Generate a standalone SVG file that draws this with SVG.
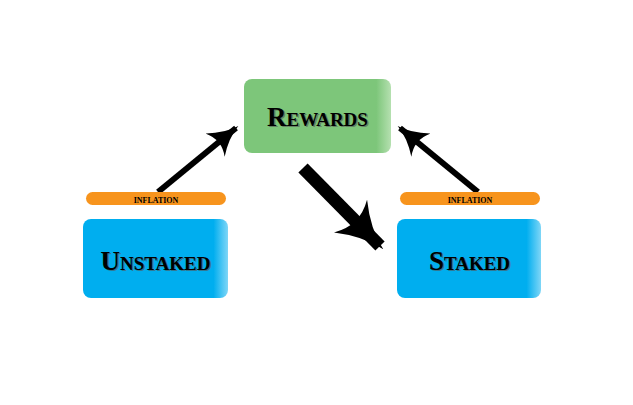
<svg xmlns="http://www.w3.org/2000/svg" width="633" height="405" viewBox="0 0 633 405">
<defs>
<style>
.lbl{font-family:"Liberation Serif","DejaVu Serif",serif;font-variant:small-caps;font-weight:bold;fill:#000;text-anchor:middle}
.big{font-size:27px}
.sm{font-size:11px}
.sh{fill:#555;opacity:0.6}
.ar{stroke:#000;fill:none}
</style>
<linearGradient id="gG" x1="0" x2="1"><stop offset="0.9" stop-color="#7dc67a"/><stop offset="1" stop-color="#b5e0b0"/></linearGradient>
<linearGradient id="gB" x1="0" x2="1"><stop offset="0.9" stop-color="#00aeef"/><stop offset="1" stop-color="#7fd6f7"/></linearGradient>
<marker id="hs" viewBox="0 0 10 10" refX="9" refY="5" markerWidth="5" markerHeight="5" orient="auto" markerUnits="strokeWidth"><path d="M0,0 Q5,4 10,5 Q5,6 0,10 Q3,5 0,0z" fill="#000"/></marker>
<marker id="hb" viewBox="0 0 10 10" refX="9" refY="5" markerWidth="3.6" markerHeight="3.6" orient="auto" markerUnits="strokeWidth"><path d="M0,0 Q5,4 10,5 Q5,6 0,10 Q3,5 0,0z" fill="#000"/></marker>
</defs>
<rect width="633" height="405" fill="#fff"/>
<g id="connectors">
<line class="ar" x1="158" y1="192" x2="236" y2="128" stroke-width="6" marker-end="url(#hs)"/>
<line class="ar" x1="478" y1="192" x2="400" y2="128" stroke-width="6" marker-end="url(#hs)"/>
<line class="ar" x1="303" y1="168" x2="380" y2="246" stroke-width="13" marker-end="url(#hb)"/>
</g>
<g id="rewards">
<rect x="244" y="79" width="147" height="74" rx="8" fill="url(#gG)"/>
<text class="lbl big sh" x="319" y="127">Rewards</text>
<text class="lbl big" x="317.5" y="126">Rewards</text>
</g>
<g id="inflation-left">
<rect x="86" y="192" width="140" height="13" rx="6.5" fill="#f7941d"/>
<text class="lbl sm" x="156" y="203">inflation</text>
</g>
<g id="inflation-right">
<rect x="400" y="192" width="140" height="13" rx="6.5" fill="#f7941d"/>
<text class="lbl sm" x="470" y="203">inflation</text>
</g>
<g id="unstaked">
<rect x="83" y="219" width="145" height="79" rx="8" fill="url(#gB)"/>
<text class="lbl big sh" x="157" y="271">Unstaked</text>
<text class="lbl big" x="155.5" y="270">Unstaked</text>
</g>
<g id="staked">
<rect x="397" y="219" width="144" height="79" rx="8" fill="url(#gB)"/>
<text class="lbl big sh" x="471" y="271">Staked</text>
<text class="lbl big" x="469.5" y="270">Staked</text>
</g>
</svg>
